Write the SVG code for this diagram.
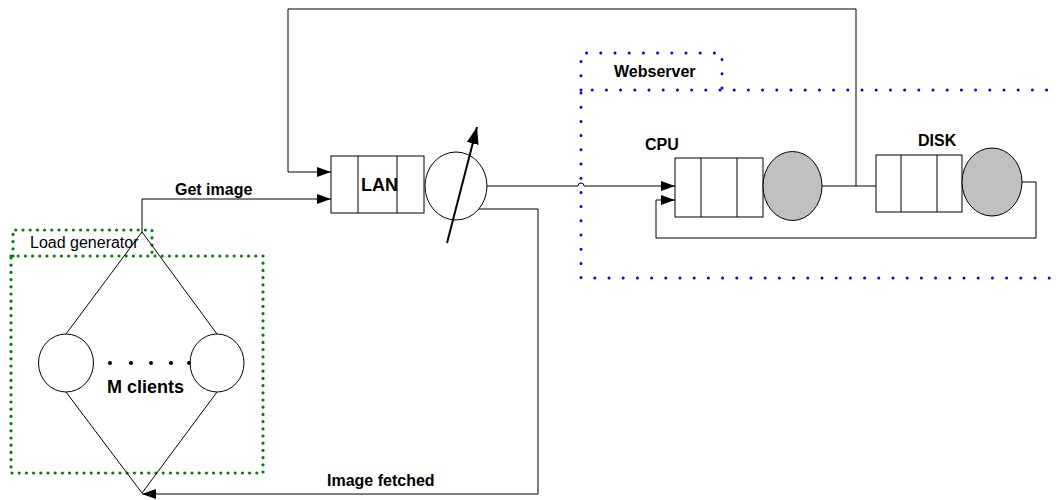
<svg xmlns="http://www.w3.org/2000/svg" width="1059" height="500" viewBox="0 0 1059 500">
<style>
.ln{fill:none;stroke:#000;stroke-width:1}
.q{fill:#fff;stroke:#000;stroke-width:1}
.srv{fill:#c0c0c0;stroke:#000;stroke-width:1}
.cl{fill:#fff;stroke:#000;stroke-width:1}
.b{font-family:"Liberation Sans",Arial,sans-serif;font-weight:bold;font-size:16px;fill:#000}
.big{font-size:18px}
.n{font-family:"Liberation Sans",Arial,sans-serif;font-size:16px;fill:#000}
.gdot{fill:none;stroke:#008000;stroke-width:3.2;stroke-linecap:round;stroke-dasharray:0 7.2}
.bdot{fill:none;stroke:#0000ff;stroke-width:3;stroke-linecap:round;stroke-dasharray:0 14.2}
</style>
<defs>
<marker id="ah" markerUnits="userSpaceOnUse" markerWidth="14" markerHeight="10" refX="14" refY="5" orient="auto">
<path d="M0,0 L14,5 L0,10 z" fill="#000"/>
</marker>
<marker id="ah2" markerUnits="userSpaceOnUse" markerWidth="17" markerHeight="12" refX="17" refY="6" orient="auto">
<path d="M0,0 L17,6 L0,12 z" fill="#000"/>
</marker>
</defs>
<rect width="1059" height="500" fill="#fff"/>

<g id="loadgen-box">
<path class="gdot" d="M13,256 V230 H152 V256"/>
<rect class="gdot" x="11" y="256" width="252" height="217"/>
<text class="n" x="30" y="248">Load generator</text>
</g>

<g id="webserver-box">
<path class="bdot" d="M581,90 V53 H722 V90"/>
<path class="bdot" d="M1075,90 H581 V278 H1075"/>
<text class="b" x="614" y="77">Webserver</text>
</g>

<g id="connectors">
<path class="ln" d="M142,232 V199 H331" marker-end="url(#ah)"/>
<path class="ln" d="M856,186 V9 H288 V172 H331" marker-end="url(#ah)"/>
<path class="ln" d="M487,186 H578 A3,3 0 0 1 584,186 H675" marker-end="url(#ah)"/>
<path class="ln" d="M479,209 H538 V494 H142" marker-end="url(#ah)"/>
<path class="ln" d="M822,186 H876"/>
<path class="ln" d="M1022,182 H1036 V238 H656 V200 H675" marker-end="url(#ah)"/>
<path class="ln" d="M142,232 L66,334 M142,232 L217,334 M66,392 L142,493 M217,392 L142,493"/>
</g>

<g id="clients">
<ellipse class="cl" cx="66" cy="363" rx="27.5" ry="29"/>
<ellipse class="cl" cx="217" cy="363" rx="27" ry="29"/>
<g fill="#000">
<circle cx="110" cy="363" r="2"/>
<circle cx="131" cy="363" r="2"/>
<circle cx="151" cy="363" r="2"/>
<circle cx="171" cy="363" r="2"/>
<circle cx="189" cy="363" r="2"/>
</g>
<text class="b big" x="107" y="393">M clients</text>
</g>

<g id="lan">
<rect class="q" x="331" y="156" width="93" height="57"/>
<path class="ln" d="M358,156 V213 M397,156 V213"/>
<text class="b big" x="361" y="191">LAN</text>
<ellipse class="cl" cx="456" cy="186" rx="31" ry="34"/>
<line x1="447" y1="243" x2="477" y2="127" stroke="#000" stroke-width="2" marker-end="url(#ah2)"/>
</g>

<g id="cpu">
<text class="b" x="645" y="150">CPU</text>
<rect class="q" x="675" y="158" width="88" height="59"/>
<path class="ln" d="M701,158 V217 M737,158 V217"/>
<ellipse class="srv" cx="792.5" cy="186" rx="29.5" ry="34.5"/>
</g>

<g id="disk">
<text class="b" x="918" y="146">DISK</text>
<rect class="q" x="876" y="155" width="86" height="57"/>
<path class="ln" d="M901,155 V212 M937,155 V212"/>
<ellipse class="srv" cx="992" cy="182" rx="30" ry="34"/>
</g>

<g id="labels">
<text class="b" x="175" y="195">Get image</text>
<text class="b" x="327" y="486">Image fetched</text>
</g>
</svg>
